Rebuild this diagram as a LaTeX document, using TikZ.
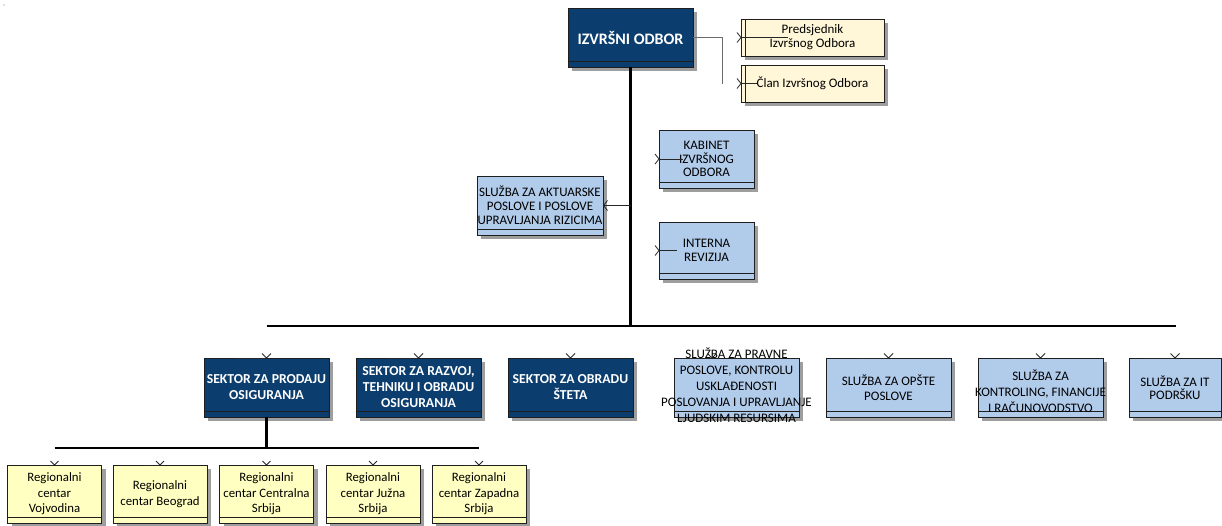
\documentclass[tikz,border=0pt]{standalone}
\usepackage{fontspec}
\setmainfont{Carlito}
\usetikzlibrary{arrows.meta,shadows,calc}
\definecolor{dblue}{HTML}{0B3D6E}
\definecolor{lblue}{HTML}{B1CBEB}
\definecolor{ryellow}{HTML}{FFFFC2}
\definecolor{cream}{HTML}{FFF7D8}
\definecolor{shgray}{HTML}{9E9E9E}
\definecolor{edgegray}{HTML}{1E1E1E}
\definecolor{conngray}{HTML}{6A6A6A}
\tikzset{
  base/.style={draw=edgegray, line width=0.9pt, inner sep=0pt, outer sep=0pt, align=center,
    drop shadow={shadow xshift=4pt, shadow yshift=-4pt, fill=shgray, opacity=1}},
  strip/.style={append after command={([yshift=6pt]\tikzlastnode.south west) edge[draw=edgegray,line width=0.9pt] ([yshift=6pt]\tikzlastnode.south east)}},
  darkbox/.style={base, strip, fill=dblue, text=white, minimum width=125pt, minimum height=59pt,
    font=\fontsize{13.7}{16}\selectfont\bfseries},
  lightbox/.style={base, strip, fill=lblue, minimum height=59pt, font=\fontsize{13}{15.5}\selectfont},
  regbox/.style={base, strip, fill=ryellow, minimum width=94pt, minimum height=58pt,
    font=\fontsize{12.8}{15.5}\selectfont},
  memberbox/.style={base, fill=cream, minimum width=143pt, minimum height=37pt,
    font=\fontsize{13}{14}\selectfont},
  freetext/.style={inner sep=0pt, align=center, font=\fontsize{13}{16}\selectfont},
  trunk/.style={draw=black, line width=2.2pt},
  bar/.style={draw=black, line width=1.6pt},
  tipline/.style={draw=black!85, line width=0.8pt},
  grayconn/.style={draw=conngray, line width=1pt},
}
\begin{document}
\begin{tikzpicture}[x=1pt, y=-1pt]
\useasboundingbox (0,0) rectangle (1222,525);
\fill[gray] (4,5) circle (0.7);

% top level
\node[darkbox, font=\fontsize{16}{18}\selectfont\bfseries] (io) at (630.5,37.5) {IZVRŠNI ODBOR};
\node[memberbox] (pred) at (812.5,37.5) {Predsjednik\\Izvršnog Odbora};
\node[memberbox] (clan) at (812.5,83.5) {Član Izvršnog Odbora};
\draw[line width=0.9pt, draw=edgegray] ([xshift=4pt]pred.north west) -- ([xshift=4pt]pred.south west);
\draw[line width=0.9pt, draw=edgegray] ([xshift=4pt]clan.north west) -- ([xshift=4pt]clan.south west);

% staff units
\node[lightbox, minimum width=95pt, minimum height=58pt, font=\fontsize{13}{13.5}\selectfont] (kab) at (706.5,159) {KABINET\\IZVRŠNOG\\ODBORA};
\node[lightbox, minimum width=95pt, minimum height=57pt, font=\fontsize{13}{14}\selectfont] (int) at (706.5,250.5) {INTERNA\\REVIZIJA};
\node[lightbox, minimum width=126pt, font=\fontsize{13}{14}\selectfont] (akt) at (540,205.5) {SLUŽBA ZA AKTUARSKE\\POSLOVE I POSLOVE\\UPRAVLJANJA RIZICIMA};

% second row
\node[darkbox] (sp) at (266.5,387.5) {SEKTOR ZA PRODAJU\\OSIGURANJA};
\node[darkbox] (sr) at (418.5,387.5) {SEKTOR ZA RAZVOJ,\\TEHNIKU I OBRADU\\OSIGURANJA};
\node[darkbox] (ss) at (570.5,387.5) {SEKTOR ZA OBRADU\\ŠTETA};
\node[lightbox, minimum width=125pt] (pr) at (736.5,387.5) {};
\node[freetext] (prt) at (736.5,385) {SLUŽBA ZA PRAVNE\\POSLOVE, KONTROLU\\USKLAĐENOSTI\\POSLOVANJA I UPRAVLJANJE\\LJUDSKIM RESURSIMA};
\node[lightbox, minimum width=125pt] (op) at (888.5,387.5) {SLUŽBA ZA OPŠTE\\POSLOVE};
\node[lightbox, minimum width=125pt] (ko) at (1040.5,387.5) {};
\node[freetext] (kot) at (1040.5,391) {SLUŽBA ZA\\KONTROLING, FINANCIJE\\I RAČUNOVODSTVO};
\node[lightbox, minimum width=92pt, font=\fontsize{13}{13.5}\selectfont] (it) at (1175,387.5) {SLUŽBA ZA IT\\PODRŠKU};

% regional centres
\node[regbox] (r1) at (54.5,494) {Regionalni\\centar\\Vojvodina};
\node[regbox] (r2) at (160,494) {Regionalni\\centar Beograd};
\node[regbox] (r3) at (266.5,494) {Regionalni\\centar Centralna\\Srbija};
\node[regbox] (r4) at (373,494) {Regionalni\\centar Južna\\Srbija};
\node[regbox] (r5) at (479,494) {Regionalni\\centar Zapadna\\Srbija};

% main trunk and bars
\coordinate (h1) at (266.5,326);
\coordinate (h2) at (1176,326);
\coordinate (h3) at (54.5,448);
\coordinate (h4) at (479,448);
\draw[trunk] (io.south) -- (io.south |- h1);
\draw[bar] (h1) -- (h2);
\draw[trunk] (sp.south) -- (sp.south |- h3);
\draw[bar] (h3) -- (h4);

% connector to actuarial service
\draw[tipline, -{Straight Barb[length=4pt,width=10pt]}] (io.south |- akt.east) -- (akt.east);

% connector to executive board members
\coordinate (ioc) at (722,83.5);
\draw[grayconn] (io.east) -| (ioc);
\draw[tipline] (pred.west) ++(-4,-5) -- (pred.west) -- ++(-4,5);
\draw[tipline] (pred.west) -- ++(47,0);
\draw[tipline] (clan.west) ++(-4,-5) -- (clan.west) -- ++(-4,5);
\draw[tipline] (clan.west) -- ++(16,0);

% stubs of staff units
\draw[tipline] (kab.west) ++(-4,-5) -- (kab.west) -- ++(-4,5);
\draw[tipline] (kab.west) -- ++(24,0);
\draw[tipline] (int.west) ++(-4,-5) -- (int.west) -- ++(-4,5);
\draw[tipline] (int.west) -- ++(18,0);

% stubs of second row
\foreach \n in {sp,sr,ss,op,ko,it} {
  \draw[tipline] (\n.north) ++(-4.5,-4.5) -- (\n.north) -- ++(4.5,-4.5);
  \draw[tipline] (\n.north) -- ++(-31,0);
}
\coordinate (prv) at ([xshift=-24.5pt]pr.north);
\draw[tipline] (prv) ++(-4.5,-4.5) -- (prv) -- ++(4.5,-4.5);
\draw[tipline] (prv) -- ++(-31,0);

% stubs of regional centres
\foreach \n in {r1,r2,r3,r4,r5} {
  \draw[tipline] (\n.north) ++(-4,-4) -- (\n.north) -- ++(4,-4);
  \draw[tipline] (\n.north) -- ++(-16,0);
}
\end{tikzpicture}
\end{document}
